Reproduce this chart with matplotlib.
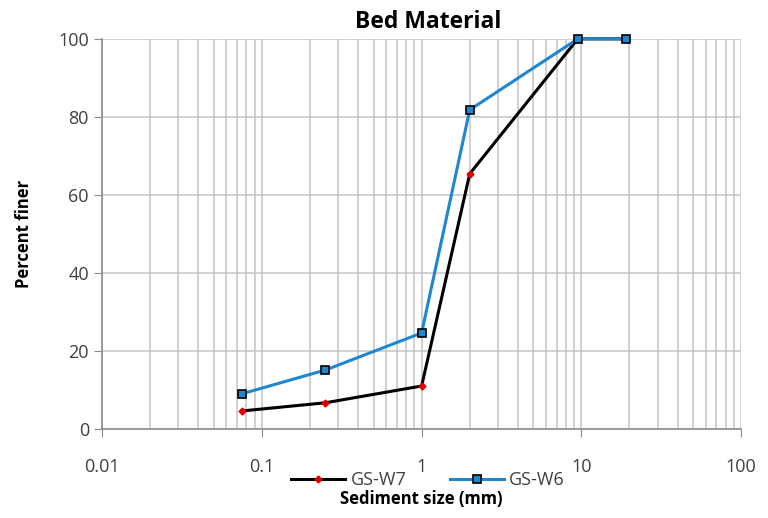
"""Grain size distribution of the bed material."""
import matplotlib
matplotlib.use('Agg')
import matplotlib.pyplot as plt
from matplotlib.ticker import FixedLocator, NullFormatter

# Sediment size (mm) and percent finer
size_w7 = [0.075, 0.25, 1.0, 2.0, 9.5, 19.0]
finer_w7 = [4.6, 6.7, 11.0, 65.4, 100.0, 100.0]
size_w6 = [0.075, 0.25, 1.0, 2.0, 9.5, 19.0]
finer_w6 = [9.0, 15.1, 24.6, 81.8, 100.0, 100.0]

x_ticks = [0.01, 0.1, 1, 10, 100]
x_labels = ['0.01', '0.1', '1', '10', '100']
y_ticks = [0, 20, 40, 60, 80, 100]

plt.rcParams['font.family'] = ['Open Sans', 'DejaVu Sans']

fig = plt.figure(figsize=(7.68, 5.18), dpi=100)
ax = fig.add_axes([0.133, 0.172, 0.832, 0.753])

grid_color = '#c8c8c8'
ax.set_xscale('log')
ax.set_xlim(0.01, 100)
ax.set_ylim(0, 100)

ax.xaxis.set_major_locator(FixedLocator(x_ticks))
ax.set_xticklabels(x_labels)
minor = [m * 10.0 ** e for e in range(-2, 2) for m in range(2, 10)]
ax.xaxis.set_minor_locator(FixedLocator(minor))
ax.xaxis.set_minor_formatter(NullFormatter())
ax.set_yticks(y_ticks)

ax.grid(True, which='both', axis='x', color=grid_color, lw=1.2)
ax.grid(True, which='major', axis='y', color=grid_color, lw=1.2)
ax.set_axisbelow(True)

for side in ['top', 'right']:
    ax.spines[side].set_visible(False)
for side in ['left', 'bottom']:
    ax.spines[side].set_color('#8c8c8c')
    ax.spines[side].set_linewidth(1.2)

ax.tick_params(axis='both', which='major', direction='out', length=6,
               color='#8c8c8c', labelsize=13, labelcolor='#404040')
ax.tick_params(axis='x', which='minor', length=0)
ax.tick_params(axis='x', which='major', pad=15)

ax.plot(size_w7, finer_w7, color='black', lw=2.2, marker='D', ms=3.5,
        mfc='#e00000', mec='#e00000', label='GS-W7', clip_on=False, zorder=3)
ax.plot(size_w6, finer_w6, color='#1f87d0', lw=2.2, marker='s', ms=6,
        mfc='#1f87d0', mec='black', mew=1.2, label='GS-W6',
        clip_on=False, zorder=4)

ax.set_title('Bed Material', fontsize=16.5, fontweight='bold', pad=8, x=0.511)
ax.set_xlabel('Sediment size (mm)', fontsize=12, fontweight='bold', labelpad=10)
ax.set_ylabel('Percent finer', fontsize=12, fontweight='bold', labelpad=18)

leg = ax.legend(loc='upper center', bbox_to_anchor=(0.51, -0.085), ncol=2,
                frameon=False, fontsize=13, handlelength=3.0,
                columnspacing=2.4, handletextpad=0.3, borderpad=0)
for t in leg.get_texts():
    t.set_color('#404040')

fig.savefig('out.png', dpi=100)
plt.close(fig)
